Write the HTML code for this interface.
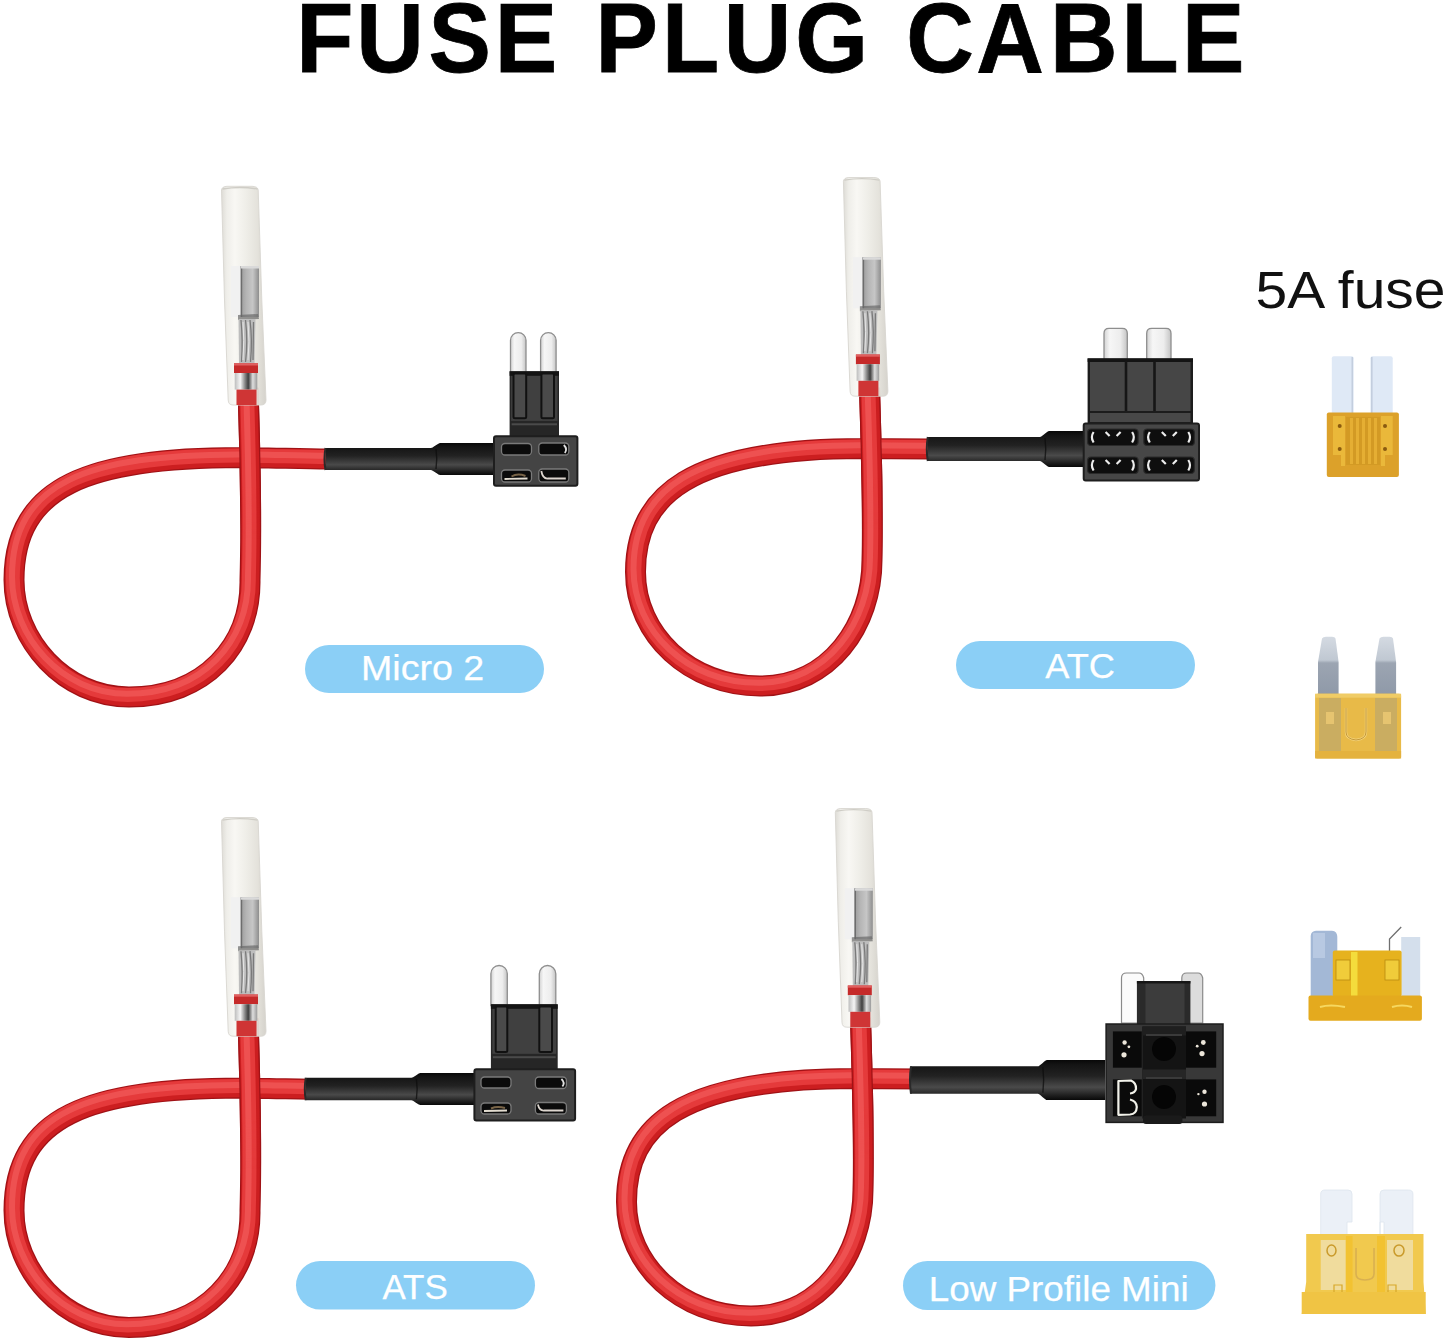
<!DOCTYPE html>
<html><head><meta charset="utf-8"><style>
html,body{margin:0;padding:0;background:#fff;}
body{width:1445px;height:1342px;overflow:hidden;position:relative;}
svg{position:absolute;left:0;top:0;font-family:"Liberation Sans", sans-serif;}
</style></head><body>
<svg width="1445" height="1342" viewBox="0 0 1445 1342">
<defs>
<linearGradient id="sleeve" x1="0" x2="1" y1="0" y2="0">
 <stop offset="0" stop-color="#dcdad4"/><stop offset="0.12" stop-color="#eeede8"/><stop offset="0.3" stop-color="#f8f7f3"/><stop offset="0.55" stop-color="#eeede7"/><stop offset="0.8" stop-color="#e3e1da"/><stop offset="1" stop-color="#d3d0c9"/>
</linearGradient>
<linearGradient id="metal" x1="0" x2="1" y1="0" y2="0">
 <stop offset="0" stop-color="#cfcfcf"/><stop offset="0.2" stop-color="#f2f2f2"/><stop offset="0.36" stop-color="#dadada"/><stop offset="0.42" stop-color="#6f6f6f"/><stop offset="0.55" stop-color="#a9a9a9"/><stop offset="0.8" stop-color="#c4c4c4"/><stop offset="1" stop-color="#8c8c8c"/>
</linearGradient>
<linearGradient id="barrel" x1="0" x2="1" y1="0" y2="0"><stop offset="0" stop-color="#9d9d9d"/><stop offset="0.3" stop-color="#b5b5b5"/><stop offset="0.65" stop-color="#c6c6c6"/><stop offset="1" stop-color="#8e8e8e"/></linearGradient>
<linearGradient id="metal2" x1="0" x2="1" y1="0" y2="0">
 <stop offset="0" stop-color="#d6d6d6"/><stop offset="0.5" stop-color="#a8a8a8"/><stop offset="1" stop-color="#cdcdcd"/>
</linearGradient>
<linearGradient id="metal3" x1="0" x2="1" y1="0" y2="0">
 <stop offset="0" stop-color="#bdbdbd"/><stop offset="0.25" stop-color="#f5f5f5"/><stop offset="0.45" stop-color="#8a8a8a"/><stop offset="0.6" stop-color="#3f3f3f"/><stop offset="0.8" stop-color="#dedede"/><stop offset="1" stop-color="#9a9a9a"/>
</linearGradient>
<linearGradient id="shrink" x1="0" x2="0" y1="0" y2="1">
 <stop offset="0" stop-color="#080808"/><stop offset="0.12" stop-color="#141414"/><stop offset="0.4" stop-color="#222"/><stop offset="0.68" stop-color="#4a4a4a"/><stop offset="0.88" stop-color="#202020"/><stop offset="1" stop-color="#080808"/>
</linearGradient>
<linearGradient id="prong" x1="0" x2="1" y1="0" y2="0">
 <stop offset="0" stop-color="#d2d2d2"/><stop offset="0.25" stop-color="#f6f6f6"/><stop offset="0.7" stop-color="#ededed"/><stop offset="1" stop-color="#c4c4c4"/>
</linearGradient>
<linearGradient id="prongB" x1="0" x2="0" y1="0" y2="1">
 <stop offset="0" stop-color="#d4dae2"/><stop offset="0.4" stop-color="#c0c8d2"/><stop offset="0.45" stop-color="#9ca5b2"/><stop offset="1" stop-color="#8f99a8"/>
</linearGradient>
</defs>
<defs><linearGradient id="fg0" gradientUnits="userSpaceOnUse" x1="0" y1="487" x2="0" y2="539"><stop offset="0" stop-color="#fff"/><stop offset="1" stop-color="#000"/></linearGradient><mask id="fm0" maskUnits="userSpaceOnUse" x="190" y="339" width="120" height="260"><rect x="190" y="339" width="120" height="260" fill="url(#fg0)"/></mask><linearGradient id="fg1" gradientUnits="userSpaceOnUse" x1="0" y1="477" x2="0" y2="529"><stop offset="0" stop-color="#fff"/><stop offset="1" stop-color="#000"/></linearGradient><mask id="fm1" maskUnits="userSpaceOnUse" x="812" y="329" width="120" height="260"><rect x="812" y="329" width="120" height="260" fill="url(#fg1)"/></mask><linearGradient id="fg2" gradientUnits="userSpaceOnUse" x1="0" y1="1117.5" x2="0" y2="1169.5"><stop offset="0" stop-color="#fff"/><stop offset="1" stop-color="#000"/></linearGradient><mask id="fm2" maskUnits="userSpaceOnUse" x="190" y="969.5" width="120" height="260"><rect x="190" y="969.5" width="120" height="260" fill="url(#fg2)"/></mask><linearGradient id="fg3" gradientUnits="userSpaceOnUse" x1="0" y1="1107" x2="0" y2="1159"><stop offset="0" stop-color="#fff"/><stop offset="1" stop-color="#000"/></linearGradient><mask id="fm3" maskUnits="userSpaceOnUse" x="803" y="959" width="120" height="260"><rect x="803" y="959" width="120" height="260" fill="url(#fg3)"/></mask></defs>
<text y="72" font-size="98" font-weight="bold" fill="#000" stroke="#000" stroke-width="0.8" transform="scale(0.955,1)"><tspan x="310.20">F</tspan><tspan x="373.17">U</tspan><tspan x="448.59">S</tspan><tspan x="518.05">E</tspan><tspan x="623.60">P</tspan><tspan x="693.23">L</tspan><tspan x="757.99">U</tspan><tspan x="832.84">G</tspan><tspan x="949.07">C</tspan><tspan x="1022.38">A</tspan><tspan x="1099.41">B</tspan><tspan x="1174.28">L</tspan><tspan x="1237.63">E</tspan></text>
<text x="1255.5" y="307.5" font-size="51" fill="#111" textLength="190" lengthAdjust="spacingAndGlyphs">5A fuse</text>
<path d="M328.0,459.0 C300.0,459.0 270.0,457.6 240.0,457.6 C90.0,458.0 14.0,485.0 14.0,580.0 C14.0,640.0 64.0,697.0 129.0,697.0 C205.0,697.0 251.0,645.0 250.0,580.0 C251.5,530.0 250.0,450.0 248.0,388.0" fill="none" stroke="#a01216" stroke-width="21"/><path d="M328.0,459.0 C300.0,459.0 270.0,457.6 240.0,457.6 C90.0,458.0 14.0,485.0 14.0,580.0 C14.0,640.0 64.0,697.0 129.0,697.0 C205.0,697.0 251.0,645.0 250.0,580.0 C251.5,530.0 250.0,450.0 248.0,388.0" fill="none" stroke="#cc1e20" stroke-width="18.5"/><path d="M328.0,459.0 C300.0,459.0 270.0,457.6 240.0,457.6 C90.0,458.0 14.0,485.0 14.0,580.0 C14.0,640.0 64.0,697.0 129.0,697.0 C205.0,697.0 251.0,645.0 250.0,580.0 C251.5,530.0 250.0,450.0 248.0,388.0" fill="none" stroke="#e53a3b" stroke-width="14" transform="translate(-1.2,-2)"/><path d="M328.0,459.0 C300.0,459.0 270.0,457.6 240.0,457.6 C90.0,458.0 14.0,485.0 14.0,580.0 C14.0,640.0 64.0,697.0 129.0,697.0 C205.0,697.0 251.0,645.0 250.0,580.0 C251.5,530.0 250.0,450.0 248.0,388.0" fill="none" stroke="#f05a5a" stroke-width="6" opacity="0.75" transform="translate(-2,-3.2)"/><g mask="url(#fm0)"><path d="M250.0,580.0 C251.5,530.0 250.0,450.0 248.0,388.0" fill="none" stroke="#a01216" stroke-width="21"/><path d="M250.0,580.0 C251.5,530.0 250.0,450.0 248.0,388.0" fill="none" stroke="#cc1e20" stroke-width="18.5"/><path d="M250.0,580.0 C251.5,530.0 250.0,450.0 248.0,388.0" fill="none" stroke="#e53a3b" stroke-width="14" transform="translate(-1.2,-2)"/><path d="M250.0,580.0 C251.5,530.0 250.0,450.0 248.0,388.0" fill="none" stroke="#f05a5a" stroke-width="6" opacity="0.75" transform="translate(-2,-3.2)"/></g>
<path d="M325.5,448.0 L431,448.0 Q432,448.0 435.5,445.5 Q439,443.0 440,443.0 L494,443.0 L494,475.0 L440,475.0 Q439,475.0 435.5,472.5 Q432,470.0 431,470.0 L325.5,470.0 Z" fill="url(#shrink)"/>
<path d="M436,449.0 Q437.5,459 436,469.0" fill="none" stroke="#0c0c0c" stroke-width="1.4" opacity="0.7"/>
<path d="M325.5,448.0 Q323.5,459 325.5,470.0" fill="none" stroke="#2a2a2a" stroke-width="2"/>
<path d="M510.5,372.6 L510.5,340.35 A7.75,7.75 0 0 1 526.0,340.35 L526.0,372.6 Z" fill="url(#prong)" stroke="#8e8e8e" stroke-width="1.3"/>
<path d="M540.6,372.6 L540.6,340.35 A7.75,7.75 0 0 1 556.1,340.35 L556.1,372.6 Z" fill="url(#prong)" stroke="#8e8e8e" stroke-width="1.3"/>
<rect x="509.6" y="371.3" width="49.39999999999998" height="65.0" fill="#262626"/>
<rect x="511.1" y="372.8" width="46.39999999999998" height="48.1" fill="#404040"/>
<rect x="509.6" y="371.3" width="49.39999999999998" height="4.5" fill="#141414"/>
<rect x="511.6" y="423.3" width="45.39999999999998" height="2" fill="#4a4a4a"/>
<rect x="513.5" y="373.5" width="12.700000000000045" height="44.69999999999999" rx="1.5" fill="#4a4a4a" stroke="#111" stroke-width="2"/>
<rect x="541.4" y="373.5" width="12.600000000000023" height="44.69999999999999" rx="1.5" fill="#4a4a4a" stroke="#111" stroke-width="2"/>
<rect x="494" y="436.3" width="83.39999999999998" height="49.39999999999998" rx="2" fill="#444444" stroke="#1e1e1e" stroke-width="2"/>
<rect x="501.5" y="443.5" width="30" height="11.5" rx="3.5" fill="#0b0b0b" stroke="#7a7a7a" stroke-width="1.3"/>
<rect x="538.8" y="443" width="30" height="12" rx="3.5" fill="#0b0b0b" stroke="#7a7a7a" stroke-width="1.3"/><path d="M563.8,445 Q567.8,449.0 564.8,453" stroke="#e0e0e0" stroke-width="1.8" fill="none"/>
<rect x="501.5" y="470" width="30" height="12" rx="3.5" fill="#0b0b0b" stroke="#7a7a7a" stroke-width="1.3"/><path d="M504.5,479 L527.5,478.5" stroke="#e2dcd0" stroke-width="1.8"/><path d="M511.5,476.5 Q517.5,473 525.5,476" stroke="#7a6548" stroke-width="2" fill="none"/>
<rect x="538.8" y="469" width="30" height="13" rx="3.5" fill="#0b0b0b" stroke="#7a7a7a" stroke-width="1.3"/><path d="M541.3,471 Q542.8,479 547.8,478.5 L565.8,478.5" stroke="#ddd6cf" stroke-width="1.8" fill="none"/>
<g transform="translate(0,0)">
  <path d="M221.5,190 Q222,186.5 227,186.3 L252,186.3 Q257.8,186.5 258.2,190 L261.8,300 L266,400 Q266,405 261,405 L233,405 Q228.3,405 228.2,400 L224.5,300 Z" fill="url(#sleeve)" fill-opacity="0.95" stroke="#d8d6d0" stroke-width="0.9"/>
  <path d="M222.5,189 Q240,186 257.5,189" stroke="#cfcdc6" stroke-width="1.3" fill="none"/>
  <rect x="231" y="266" width="10.5" height="51" fill="#f1f1f1"/>
  <rect x="241" y="266" width="18" height="51" fill="url(#barrel)"/>
  <rect x="240.6" y="266" width="1.6" height="51" fill="#6d6d6d"/>
  <rect x="241" y="266" width="18" height="2.5" fill="#d9d9d9"/>
  <path d="M238,315 L258,314 L259,319 L238,320 Z" fill="#6a6a6a" opacity="0.7"/>
  <path d="M238.5,319 L255.5,319 L254.5,363.5 L239,363.5 Z" fill="#bdbdbd"/>
  <path d="M241,320 Q243,340 241.5,362 M245.5,320 Q248,342 245.5,362 M250,320 Q252.5,340 250.5,362 M253.5,322 L253,360" stroke="#7a7a7a" stroke-width="1.3" fill="none"/>
  <path d="M243,322 Q244.5,340 243,360 M248,322 Q250,342 248,360" stroke="#e6e6e6" stroke-width="1" fill="none"/>
  <rect x="234" y="363.3" width="24" height="9.7" fill="#c52a2a"/>
  <rect x="234" y="363.3" width="24" height="2.2" fill="#e06060"/>
  <rect x="234.7" y="373" width="22.6" height="16.6" fill="url(#metal3)"/>
  <rect x="236.5" y="389.6" width="20" height="15.4" fill="#cf3535"/>
</g>
<rect x="305" y="645" width="239" height="48" rx="24.0" fill="#8bcff6"/>
<text x="361" y="679.5" font-size="35.6" fill="#ffffff" stroke="#ffffff" stroke-width="0.25" textLength="123.2" lengthAdjust="spacingAndGlyphs">Micro 2</text>
<path d="M930.0,449.0 C905.0,449.0 885.0,448.5 861.0,448.5 C690.0,449.0 635.5,495.0 635.5,572.0 C635.5,635.0 690.0,686.0 760.0,686.0 C830.0,686.0 872.0,625.0 872.0,560.0 C873.5,510.0 871.0,440.0 869.5,388.0" fill="none" stroke="#a01216" stroke-width="21"/><path d="M930.0,449.0 C905.0,449.0 885.0,448.5 861.0,448.5 C690.0,449.0 635.5,495.0 635.5,572.0 C635.5,635.0 690.0,686.0 760.0,686.0 C830.0,686.0 872.0,625.0 872.0,560.0 C873.5,510.0 871.0,440.0 869.5,388.0" fill="none" stroke="#cc1e20" stroke-width="18.5"/><path d="M930.0,449.0 C905.0,449.0 885.0,448.5 861.0,448.5 C690.0,449.0 635.5,495.0 635.5,572.0 C635.5,635.0 690.0,686.0 760.0,686.0 C830.0,686.0 872.0,625.0 872.0,560.0 C873.5,510.0 871.0,440.0 869.5,388.0" fill="none" stroke="#e53a3b" stroke-width="14" transform="translate(-1.2,-2)"/><path d="M930.0,449.0 C905.0,449.0 885.0,448.5 861.0,448.5 C690.0,449.0 635.5,495.0 635.5,572.0 C635.5,635.0 690.0,686.0 760.0,686.0 C830.0,686.0 872.0,625.0 872.0,560.0 C873.5,510.0 871.0,440.0 869.5,388.0" fill="none" stroke="#f05a5a" stroke-width="6" opacity="0.75" transform="translate(-2,-3.2)"/><g mask="url(#fm1)"><path d="M872.0,560.0 C873.5,510.0 871.0,440.0 869.5,388.0" fill="none" stroke="#a01216" stroke-width="21"/><path d="M872.0,560.0 C873.5,510.0 871.0,440.0 869.5,388.0" fill="none" stroke="#cc1e20" stroke-width="18.5"/><path d="M872.0,560.0 C873.5,510.0 871.0,440.0 869.5,388.0" fill="none" stroke="#e53a3b" stroke-width="14" transform="translate(-1.2,-2)"/><path d="M872.0,560.0 C873.5,510.0 871.0,440.0 869.5,388.0" fill="none" stroke="#f05a5a" stroke-width="6" opacity="0.75" transform="translate(-2,-3.2)"/></g>
<path d="M927.8,437.0 L1040,437.0 Q1041,437.0 1044.5,434.0 Q1048,431.0 1049,431.0 L1083.7,431.0 L1083.7,467.0 L1049,467.0 Q1048,467.0 1044.5,464.0 Q1041,461.0 1040,461.0 L927.8,461.0 Z" fill="url(#shrink)"/>
<path d="M1045,438.0 Q1046.5,449 1045,460.0" fill="none" stroke="#0c0c0c" stroke-width="1.4" opacity="0.7"/>
<path d="M927.8,437.0 Q925.8,449 927.8,461.0" fill="none" stroke="#2a2a2a" stroke-width="2"/>
<path d="M1104,360.4 L1104,333.4 Q1104,328.4 1109,328.4 L1122.3,328.4 Q1127.3,328.4 1127.3,333.4 L1127.3,360.4 Z" fill="url(#prong)" stroke="#8e8e8e" stroke-width="1.3"/>
<path d="M1146.7,360.4 L1146.7,333.4 Q1146.7,328.4 1151.7,328.4 L1166.0,328.4 Q1171.0,328.4 1171.0,333.4 L1171.0,360.4 Z" fill="url(#prong)" stroke="#8e8e8e" stroke-width="1.3"/>
<rect x="1087.6" y="358.4" width="105.4" height="65" fill="#1c1c1c"/>
<rect x="1090" y="362" width="100.5" height="49" fill="#464646"/>
<rect x="1087.6" y="358.4" width="105.4" height="3.5" fill="#141414"/>
<line x1="1126" y1="361" x2="1126" y2="411" stroke="#161616" stroke-width="2.6"/><line x1="1154.5" y1="361" x2="1154.5" y2="411" stroke="#161616" stroke-width="2.6"/>
<rect x="1090" y="413" width="100.5" height="9" fill="#484848"/>
<rect x="1083.7" y="423.4" width="115.3" height="57.1" rx="2" fill="#474747" stroke="#1e1e1e" stroke-width="2"/>
<rect x="1087.6" y="429" width="50.5" height="16.5" rx="3.5" fill="#0e0e0e" stroke="#2a2a2a" stroke-width="1.2"/>
<path d="M1093.6,432 Q1090.1,437.25 1093.6,442.5 M1132.1,432 Q1135.6,437.25 1132.1,442.5 M1105.6,432 L1109.6,436 M1120.6,432 L1116.6,436" stroke="#ececec" stroke-width="2.2" fill="none"/>
<rect x="1143.8" y="429" width="50.5" height="16.5" rx="3.5" fill="#0e0e0e" stroke="#2a2a2a" stroke-width="1.2"/>
<path d="M1149.8,432 Q1146.3,437.25 1149.8,442.5 M1188.3,432 Q1191.8,437.25 1188.3,442.5 M1161.8,432 L1165.8,436 M1176.8,432 L1172.8,436" stroke="#ececec" stroke-width="2.2" fill="none"/>
<rect x="1087.6" y="457" width="50.5" height="16.5" rx="3.5" fill="#0e0e0e" stroke="#2a2a2a" stroke-width="1.2"/>
<path d="M1093.6,460 Q1090.1,465.25 1093.6,470.5 M1132.1,460 Q1135.6,465.25 1132.1,470.5 M1105.6,460 L1109.6,464 M1120.6,460 L1116.6,464" stroke="#ececec" stroke-width="2.2" fill="none"/>
<rect x="1143.8" y="457" width="50.5" height="16.5" rx="3.5" fill="#0e0e0e" stroke="#2a2a2a" stroke-width="1.2"/>
<path d="M1149.8,460 Q1146.3,465.25 1149.8,470.5 M1188.3,460 Q1191.8,465.25 1188.3,470.5 M1161.8,460 L1165.8,464 M1176.8,460 L1172.8,464" stroke="#ececec" stroke-width="2.2" fill="none"/>
<g transform="translate(621.9,-8.8)">
  <path d="M221.5,190 Q222,186.5 227,186.3 L252,186.3 Q257.8,186.5 258.2,190 L261.8,300 L266,400 Q266,405 261,405 L233,405 Q228.3,405 228.2,400 L224.5,300 Z" fill="url(#sleeve)" fill-opacity="0.95" stroke="#d8d6d0" stroke-width="0.9"/>
  <path d="M222.5,189 Q240,186 257.5,189" stroke="#cfcdc6" stroke-width="1.3" fill="none"/>
  <rect x="231" y="266" width="10.5" height="51" fill="#f1f1f1"/>
  <rect x="241" y="266" width="18" height="51" fill="url(#barrel)"/>
  <rect x="240.6" y="266" width="1.6" height="51" fill="#6d6d6d"/>
  <rect x="241" y="266" width="18" height="2.5" fill="#d9d9d9"/>
  <path d="M238,315 L258,314 L259,319 L238,320 Z" fill="#6a6a6a" opacity="0.7"/>
  <path d="M238.5,319 L255.5,319 L254.5,363.5 L239,363.5 Z" fill="#bdbdbd"/>
  <path d="M241,320 Q243,340 241.5,362 M245.5,320 Q248,342 245.5,362 M250,320 Q252.5,340 250.5,362 M253.5,322 L253,360" stroke="#7a7a7a" stroke-width="1.3" fill="none"/>
  <path d="M243,322 Q244.5,340 243,360 M248,322 Q250,342 248,360" stroke="#e6e6e6" stroke-width="1" fill="none"/>
  <rect x="234" y="363.3" width="24" height="9.7" fill="#c52a2a"/>
  <rect x="234" y="363.3" width="24" height="2.2" fill="#e06060"/>
  <rect x="234.7" y="373" width="22.6" height="16.6" fill="url(#metal3)"/>
  <rect x="236.5" y="389.6" width="20" height="15.4" fill="#cf3535"/>
</g>
<rect x="956" y="641" width="239" height="48" rx="24.0" fill="#8bcff6"/>
<text x="1045.2" y="678.2" font-size="35" fill="#ffffff" stroke="#ffffff" stroke-width="0.25" textLength="69.8" lengthAdjust="spacingAndGlyphs">ATC</text>
<path d="M328.0,1089.5 C300.0,1089.5 270.0,1088.1 240.0,1088.1 C90.0,1088.5 14.0,1115.5 14.0,1210.5 C14.0,1270.5 64.0,1327.5 129.0,1327.5 C205.0,1327.5 251.0,1275.5 250.0,1210.5 C251.5,1160.5 250.0,1080.5 248.0,1018.5" fill="none" stroke="#a01216" stroke-width="21"/><path d="M328.0,1089.5 C300.0,1089.5 270.0,1088.1 240.0,1088.1 C90.0,1088.5 14.0,1115.5 14.0,1210.5 C14.0,1270.5 64.0,1327.5 129.0,1327.5 C205.0,1327.5 251.0,1275.5 250.0,1210.5 C251.5,1160.5 250.0,1080.5 248.0,1018.5" fill="none" stroke="#cc1e20" stroke-width="18.5"/><path d="M328.0,1089.5 C300.0,1089.5 270.0,1088.1 240.0,1088.1 C90.0,1088.5 14.0,1115.5 14.0,1210.5 C14.0,1270.5 64.0,1327.5 129.0,1327.5 C205.0,1327.5 251.0,1275.5 250.0,1210.5 C251.5,1160.5 250.0,1080.5 248.0,1018.5" fill="none" stroke="#e53a3b" stroke-width="14" transform="translate(-1.2,-2)"/><path d="M328.0,1089.5 C300.0,1089.5 270.0,1088.1 240.0,1088.1 C90.0,1088.5 14.0,1115.5 14.0,1210.5 C14.0,1270.5 64.0,1327.5 129.0,1327.5 C205.0,1327.5 251.0,1275.5 250.0,1210.5 C251.5,1160.5 250.0,1080.5 248.0,1018.5" fill="none" stroke="#f05a5a" stroke-width="6" opacity="0.75" transform="translate(-2,-3.2)"/><g mask="url(#fm2)"><path d="M250.0,1210.5 C251.5,1160.5 250.0,1080.5 248.0,1018.5" fill="none" stroke="#a01216" stroke-width="21"/><path d="M250.0,1210.5 C251.5,1160.5 250.0,1080.5 248.0,1018.5" fill="none" stroke="#cc1e20" stroke-width="18.5"/><path d="M250.0,1210.5 C251.5,1160.5 250.0,1080.5 248.0,1018.5" fill="none" stroke="#e53a3b" stroke-width="14" transform="translate(-1.2,-2)"/><path d="M250.0,1210.5 C251.5,1160.5 250.0,1080.5 248.0,1018.5" fill="none" stroke="#f05a5a" stroke-width="6" opacity="0.75" transform="translate(-2,-3.2)"/></g>
<path d="M305.8,1077.75 L411.4,1077.75 Q412.4,1077.75 415.9,1075.375 Q419.4,1073.0 420.4,1073.0 L474.4,1073.0 L474.4,1105.0 L420.4,1105.0 Q419.4,1105.0 415.9,1102.625 Q412.4,1100.25 411.4,1100.25 L305.8,1100.25 Z" fill="url(#shrink)"/>
<path d="M416.4,1078.75 Q417.9,1089 416.4,1099.25" fill="none" stroke="#0c0c0c" stroke-width="1.4" opacity="0.7"/>
<path d="M305.8,1077.75 Q303.8,1089 305.8,1100.25" fill="none" stroke="#2a2a2a" stroke-width="2"/>
<path d="M490.9,1005.5 L490.9,973.7 A8.2,8.2 0 0 1 507.29999999999995,973.7 L507.29999999999995,1005.5 Z" fill="url(#prong)" stroke="#8e8e8e" stroke-width="1.3"/>
<path d="M539.3,1005.5 L539.3,973.75 A8.25,8.25 0 0 1 555.8,973.75 L555.8,1005.5 Z" fill="url(#prong)" stroke="#8e8e8e" stroke-width="1.3"/>
<rect x="490.9" y="1004.3" width="66.80000000000007" height="64.90000000000009" fill="#262626"/>
<rect x="492.4" y="1005.8" width="63.80000000000007" height="48.02600000000007" fill="#404040"/>
<rect x="490.9" y="1004.3" width="66.80000000000007" height="4.5" fill="#141414"/>
<rect x="492.9" y="1056.22" width="62.80000000000007" height="2" fill="#4a4a4a"/>
<rect x="495.7" y="1006.5" width="11.600000000000023" height="45.5" rx="1.5" fill="#4a4a4a" stroke="#111" stroke-width="2"/>
<rect x="539.3" y="1006.5" width="12.700000000000045" height="45.5" rx="1.5" fill="#4a4a4a" stroke="#111" stroke-width="2"/>
<rect x="474.4" y="1069.2" width="100.70000000000005" height="51.299999999999955" rx="2" fill="#444444" stroke="#1e1e1e" stroke-width="2"/>
<rect x="481" y="1077" width="30" height="11" rx="3.5" fill="#0b0b0b" stroke="#7a7a7a" stroke-width="1.3"/>
<rect x="535.4" y="1077" width="31" height="11.5" rx="3.5" fill="#0b0b0b" stroke="#7a7a7a" stroke-width="1.3"/><path d="M561.4,1079 Q565.4,1082.75 562.4,1086.5" stroke="#e0e0e0" stroke-width="1.8" fill="none"/>
<rect x="481" y="1103" width="30" height="11" rx="3.5" fill="#0b0b0b" stroke="#7a7a7a" stroke-width="1.3"/><path d="M484,1111 L507,1110.5" stroke="#e2dcd0" stroke-width="1.8"/><path d="M491,1108.5 Q497,1106 505,1108" stroke="#7a6548" stroke-width="2" fill="none"/>
<rect x="535.4" y="1102.5" width="31" height="11.5" rx="3.5" fill="#0b0b0b" stroke="#7a7a7a" stroke-width="1.3"/><path d="M537.9,1104.5 Q539.4,1111.0 544.4,1110.5 L563.4,1110.5" stroke="#ddd6cf" stroke-width="1.8" fill="none"/>
<g transform="translate(0,631.2)">
  <path d="M221.5,190 Q222,186.5 227,186.3 L252,186.3 Q257.8,186.5 258.2,190 L261.8,300 L266,400 Q266,405 261,405 L233,405 Q228.3,405 228.2,400 L224.5,300 Z" fill="url(#sleeve)" fill-opacity="0.95" stroke="#d8d6d0" stroke-width="0.9"/>
  <path d="M222.5,189 Q240,186 257.5,189" stroke="#cfcdc6" stroke-width="1.3" fill="none"/>
  <rect x="231" y="266" width="10.5" height="51" fill="#f1f1f1"/>
  <rect x="241" y="266" width="18" height="51" fill="url(#barrel)"/>
  <rect x="240.6" y="266" width="1.6" height="51" fill="#6d6d6d"/>
  <rect x="241" y="266" width="18" height="2.5" fill="#d9d9d9"/>
  <path d="M238,315 L258,314 L259,319 L238,320 Z" fill="#6a6a6a" opacity="0.7"/>
  <path d="M238.5,319 L255.5,319 L254.5,363.5 L239,363.5 Z" fill="#bdbdbd"/>
  <path d="M241,320 Q243,340 241.5,362 M245.5,320 Q248,342 245.5,362 M250,320 Q252.5,340 250.5,362 M253.5,322 L253,360" stroke="#7a7a7a" stroke-width="1.3" fill="none"/>
  <path d="M243,322 Q244.5,340 243,360 M248,322 Q250,342 248,360" stroke="#e6e6e6" stroke-width="1" fill="none"/>
  <rect x="234" y="363.3" width="24" height="9.7" fill="#c52a2a"/>
  <rect x="234" y="363.3" width="24" height="2.2" fill="#e06060"/>
  <rect x="234.7" y="373" width="22.6" height="16.6" fill="url(#metal3)"/>
  <rect x="236.5" y="389.6" width="20" height="15.4" fill="#cf3535"/>
</g>
<rect x="296" y="1261" width="239" height="48.5" rx="24.25" fill="#8bcff6"/>
<text x="382.4" y="1299.4" font-size="35.5" fill="#ffffff" stroke="#ffffff" stroke-width="0.25" textLength="65.4" lengthAdjust="spacingAndGlyphs">ATS</text>
<path d="M921.0,1079.0 C896.0,1079.0 876.0,1078.5 852.0,1078.5 C681.0,1079.0 626.5,1125.0 626.5,1202.0 C626.5,1265.0 681.0,1316.0 751.0,1316.0 C821.0,1316.0 863.0,1255.0 863.0,1190.0 C864.5,1140.0 862.0,1070.0 860.5,1018.0" fill="none" stroke="#a01216" stroke-width="21"/><path d="M921.0,1079.0 C896.0,1079.0 876.0,1078.5 852.0,1078.5 C681.0,1079.0 626.5,1125.0 626.5,1202.0 C626.5,1265.0 681.0,1316.0 751.0,1316.0 C821.0,1316.0 863.0,1255.0 863.0,1190.0 C864.5,1140.0 862.0,1070.0 860.5,1018.0" fill="none" stroke="#cc1e20" stroke-width="18.5"/><path d="M921.0,1079.0 C896.0,1079.0 876.0,1078.5 852.0,1078.5 C681.0,1079.0 626.5,1125.0 626.5,1202.0 C626.5,1265.0 681.0,1316.0 751.0,1316.0 C821.0,1316.0 863.0,1255.0 863.0,1190.0 C864.5,1140.0 862.0,1070.0 860.5,1018.0" fill="none" stroke="#e53a3b" stroke-width="14" transform="translate(-1.2,-2)"/><path d="M921.0,1079.0 C896.0,1079.0 876.0,1078.5 852.0,1078.5 C681.0,1079.0 626.5,1125.0 626.5,1202.0 C626.5,1265.0 681.0,1316.0 751.0,1316.0 C821.0,1316.0 863.0,1255.0 863.0,1190.0 C864.5,1140.0 862.0,1070.0 860.5,1018.0" fill="none" stroke="#f05a5a" stroke-width="6" opacity="0.75" transform="translate(-2,-3.2)"/><g mask="url(#fm3)"><path d="M863.0,1190.0 C864.5,1140.0 862.0,1070.0 860.5,1018.0" fill="none" stroke="#a01216" stroke-width="21"/><path d="M863.0,1190.0 C864.5,1140.0 862.0,1070.0 860.5,1018.0" fill="none" stroke="#cc1e20" stroke-width="18.5"/><path d="M863.0,1190.0 C864.5,1140.0 862.0,1070.0 860.5,1018.0" fill="none" stroke="#e53a3b" stroke-width="14" transform="translate(-1.2,-2)"/><path d="M863.0,1190.0 C864.5,1140.0 862.0,1070.0 860.5,1018.0" fill="none" stroke="#f05a5a" stroke-width="6" opacity="0.75" transform="translate(-2,-3.2)"/></g>
<path d="M911,1066.25 L1037.9,1066.25 Q1038.9,1066.25 1042.4,1063.125 Q1045.9,1060.0 1046.9,1060.0 L1105.3,1060.0 L1105.3,1100.0 L1046.9,1100.0 Q1045.9,1100.0 1042.4,1096.875 Q1038.9,1093.75 1037.9,1093.75 L911,1093.75 Z" fill="url(#shrink)"/>
<path d="M1042.9,1067.25 Q1044.4,1080 1042.9,1092.75" fill="none" stroke="#0c0c0c" stroke-width="1.4" opacity="0.7"/>
<path d="M911,1066.25 Q909,1080 911,1093.75" fill="none" stroke="#2a2a2a" stroke-width="2"/>
<path d="M1121.5,1023 L1121.5,978 Q1121.5,973 1126.5,973 L1139,973 Q1142.5,973 1143.7,978 L1143.7,1023 Z" fill="#fbfbfb" stroke="#8a8a8a" stroke-width="1.2"/>
<path d="M1181.8,1023 L1181.8,978 Q1181.8,973 1186.8,973 L1198,973 Q1201.5,973 1202.7,978 L1202.7,1023 Z" fill="#dcdcdc" stroke="#8a8a8a" stroke-width="1.2"/>
<rect x="1136.9" y="981" width="53.5" height="44" fill="#2a2a2a"/>
<rect x="1145.5" y="983" width="39" height="41" fill="#3c3c3c"/>
<rect x="1136.9" y="981" width="53.5" height="2.5" fill="#161616"/>
<rect x="1106.1" y="1024" width="116.9" height="98.4" fill="#383838" stroke="#1c1c1c" stroke-width="1.5"/>
<rect x="1112.9" y="1031.4" width="28.9" height="36.3" fill="#0a0a0a"/>
<rect x="1186" y="1031.4" width="30.2" height="36.3" fill="#0a0a0a"/>
<rect x="1112.9" y="1079.4" width="28.9" height="36.9" fill="#0a0a0a"/>
<rect x="1186" y="1079.4" width="30.2" height="36.9" fill="#0a0a0a"/>
<rect x="1142.4" y="1026.5" width="43.6" height="92" fill="#141414"/>
<rect x="1142.4" y="1026.5" width="43.6" height="9" fill="#1f1f1f"/><rect x="1146" y="1034" width="36" height="2" fill="#3a3a3a"/>
<rect x="1142.4" y="1069.5" width="43.6" height="9.5" fill="#262626"/><rect x="1146" y="1077" width="36" height="2" fill="#3a3a3a"/>
<ellipse cx="1164" cy="1049" rx="12" ry="12" fill="#050505"/><ellipse cx="1164" cy="1097" rx="12" ry="12" fill="#050505"/>
<rect x="1143" y="1115.5" width="39.4" height="8.5" rx="3" fill="#1a1a1a"/>
<path d="M1130,1093.5 Q1135,1093 1136,1089 Q1136.5,1083 1131,1080.5 L1118.4,1081 L1118.4,1114.8 L1130,1114.5 Q1136.5,1114 1136.8,1107 Q1136.5,1101 1130,1099.5" fill="none" stroke="#f2f2ea" stroke-width="2.2" stroke-linejoin="round"/>
<circle cx="1124.6" cy="1042.5" r="2.2" fill="#ece6da"/>
<circle cx="1128.9" cy="1046.8" r="1.4" fill="#ece6da"/>
<circle cx="1124" cy="1054.8" r="2.6" fill="#ece6da"/>
<circle cx="1203.3" cy="1042.5" r="2.4" fill="#ece6da"/>
<circle cx="1197.2" cy="1046.2" r="1.4" fill="#ece6da"/>
<circle cx="1202" cy="1053.6" r="2.6" fill="#ece6da"/>
<circle cx="1204.5" cy="1091.7" r="2.2" fill="#ece6da"/>
<circle cx="1198.4" cy="1094.1" r="1.2" fill="#ece6da"/>
<circle cx="1204.5" cy="1104" r="2.6" fill="#ece6da"/>
<g transform="translate(613.8,622.2)">
  <path d="M221.5,190 Q222,186.5 227,186.3 L252,186.3 Q257.8,186.5 258.2,190 L261.8,300 L266,400 Q266,405 261,405 L233,405 Q228.3,405 228.2,400 L224.5,300 Z" fill="url(#sleeve)" fill-opacity="0.95" stroke="#d8d6d0" stroke-width="0.9"/>
  <path d="M222.5,189 Q240,186 257.5,189" stroke="#cfcdc6" stroke-width="1.3" fill="none"/>
  <rect x="231" y="266" width="10.5" height="51" fill="#f1f1f1"/>
  <rect x="241" y="266" width="18" height="51" fill="url(#barrel)"/>
  <rect x="240.6" y="266" width="1.6" height="51" fill="#6d6d6d"/>
  <rect x="241" y="266" width="18" height="2.5" fill="#d9d9d9"/>
  <path d="M238,315 L258,314 L259,319 L238,320 Z" fill="#6a6a6a" opacity="0.7"/>
  <path d="M238.5,319 L255.5,319 L254.5,363.5 L239,363.5 Z" fill="#bdbdbd"/>
  <path d="M241,320 Q243,340 241.5,362 M245.5,320 Q248,342 245.5,362 M250,320 Q252.5,340 250.5,362 M253.5,322 L253,360" stroke="#7a7a7a" stroke-width="1.3" fill="none"/>
  <path d="M243,322 Q244.5,340 243,360 M248,322 Q250,342 248,360" stroke="#e6e6e6" stroke-width="1" fill="none"/>
  <rect x="234" y="363.3" width="24" height="9.7" fill="#c52a2a"/>
  <rect x="234" y="363.3" width="24" height="2.2" fill="#e06060"/>
  <rect x="234.7" y="373" width="22.6" height="16.6" fill="url(#metal3)"/>
  <rect x="236.5" y="389.6" width="20" height="15.4" fill="#cf3535"/>
</g>
<rect x="903" y="1261" width="312.4000000000001" height="49" rx="24.5" fill="#8bcff6"/>
<text x="928.8" y="1301" font-size="35.6" fill="#ffffff" stroke="#ffffff" stroke-width="0.25" textLength="259.8" lengthAdjust="spacingAndGlyphs">Low Profile Mini</text>
<rect x="1331.8" y="356.2" width="21.8" height="58" rx="2" fill="#dfe9f6"/><rect x="1351.5" y="357" width="1.6" height="56" fill="#c3cede"/>
<rect x="1370.4" y="356.2" width="22.3" height="58" rx="2" fill="#dfe9f6"/><rect x="1371" y="357" width="1.6" height="56" fill="#c3cede"/>
<rect x="1326.8" y="412.6" width="72.1" height="64.3" rx="2" fill="#dca12a"/>
<path d="M1333,416 L1345,416 L1345,466 L1341,466 L1341,455 L1333,455 Z" fill="#eab83a"/>
<path d="M1392.7,416 L1381,416 L1381,466 L1385,466 L1385,455 L1392.7,455 Z" fill="#eab83a"/>
<rect x="1346" y="417" width="34" height="48" fill="#d39a24"/>
<rect x="1350" y="418" width="3" height="46" fill="#e5ae33"/>
<rect x="1356" y="418" width="3" height="46" fill="#e5ae33"/>
<rect x="1362" y="418" width="3" height="46" fill="#e5ae33"/>
<rect x="1368" y="418" width="3" height="46" fill="#e5ae33"/>
<rect x="1374" y="418" width="3" height="46" fill="#e5ae33"/>
<circle cx="1339.7" cy="426" r="2" fill="#8a5a10"/>
<circle cx="1339.7" cy="449" r="2" fill="#8a5a10"/>
<circle cx="1385" cy="426" r="2" fill="#8a5a10"/>
<circle cx="1385" cy="449" r="2" fill="#8a5a10"/>
<path d="M1318,695 L1318,662 L1322,638.5 Q1323,636.8 1326,636.8 L1332,636.8 Q1335,636.8 1335.5,638.5 L1338.6,662 L1338.6,695 Z" fill="url(#prongB)"/>
<path d="M1375.4,695 L1375.4,662 L1379.5,638.5 Q1380.5,636.8 1383.5,636.8 L1389.5,636.8 Q1392.5,636.8 1393,638.5 L1396.1,662 L1396.1,695 Z" fill="url(#prongB)"/>
<rect x="1315.1" y="693.7" width="86" height="64.8" rx="2" fill="#e8ba48"/>
<rect x="1315.1" y="693.7" width="86" height="4" fill="#f0cc66"/>
<rect x="1319" y="698" width="22" height="54" fill="#c4aa66" opacity="0.85"/>
<rect x="1375" y="698" width="22" height="54" fill="#c4aa66" opacity="0.85"/>
<rect x="1326" y="712" width="8" height="12" fill="#e6c470"/><rect x="1383" y="712" width="8" height="12" fill="#e6c470"/>
<path d="M1346,708 L1346,732 Q1346,739 1356,740 Q1366,739 1366,732 L1366,708" fill="none" stroke="#f3d27a" stroke-width="2.4"/>
<path d="M1346,708 L1346,732 Q1346,739 1356,740 Q1366,739 1366,732 L1366,708" fill="none" stroke="#b88a2a" stroke-width="0.8"/>
<rect x="1315.1" y="751" width="86" height="7.5" fill="#e4b23e"/>
<path d="M1310.7,996 L1310.7,936 Q1311,931 1316,930.7 L1332,930.7 Q1337.3,931 1337.3,937 L1337.3,996 Z" fill="#a3b8d6"/>
<rect x="1313" y="933" width="12" height="25" fill="#c6d4ea" opacity="0.6"/>
<rect x="1401.2" y="937" width="19" height="59" fill="#d4dfec"/>
<path d="M1389.5,952 L1389.5,939 L1401.2,927" stroke="#6f6f6f" stroke-width="1.3" fill="none"/>
<rect x="1332.8" y="950.5" width="68.8" height="46" rx="2" fill="#e6b21e"/>
<rect x="1336" y="960" width="14" height="20" fill="#f0cc3a" stroke="#b88a10" stroke-width="0.8"/>
<rect x="1385" y="960" width="14" height="20" fill="#f0cc3a" stroke="#b88a10" stroke-width="0.8"/>
<rect x="1351" y="952" width="6.5" height="50" fill="#f4dc3c"/>
<rect x="1308.5" y="995.5" width="113.4" height="25.2" rx="2" fill="#e4aa1e"/>
<path d="M1320,1007 Q1330,1004 1345,1007 M1392,1007 Q1402,1004 1412,1007" stroke="#f6d860" stroke-width="2" fill="none"/>
<path d="M1320.7,1236 L1320.7,1194 Q1320.7,1190 1325,1190 L1348,1190 Q1352,1190 1352,1194 L1352,1222 L1347,1222 L1347,1236 Z" fill="#ebf0f7" stroke="#dde4ee" stroke-width="0.8"/>
<path d="M1380,1236 L1380,1194 Q1380,1190 1384,1190 L1408.5,1190 Q1412.9,1190 1412.9,1194 L1412.9,1236 L1384,1236 L1384,1222 L1380,1222 Z" fill="#ebf0f7" stroke="#dde4ee" stroke-width="0.8"/>
<path d="M1306.2,1234 L1423.5,1234 L1423.5,1282 L1425.8,1314 L1301.7,1314 L1306.2,1282 Z" fill="#f1c94e"/>
<rect x="1320.7" y="1240" width="25" height="50" fill="#efdea6" opacity="0.9"/>
<rect x="1387" y="1240" width="26" height="50" fill="#efdea6" opacity="0.9"/>
<rect x="1345.9" y="1236" width="6.7" height="62" fill="#f2c232"/><rect x="1377" y="1236" width="8" height="62" fill="#f2c232"/>
<path d="M1356,1248 L1356,1274 Q1356,1280 1365,1280 Q1374,1280 1374,1274 L1374,1248" fill="none" stroke="#d9b050" stroke-width="1.6"/>
<ellipse cx="1331.5" cy="1250.5" rx="4.5" ry="5.5" fill="none" stroke="#c99a2a" stroke-width="1.5"/><ellipse cx="1399" cy="1250.5" rx="5" ry="5.5" fill="none" stroke="#c99a2a" stroke-width="1.5"/>
<rect x="1301.7" y="1292" width="124" height="22" fill="#f0c444"/>
<path d="M1334,1292 L1334,1285 L1342,1285 L1342,1292 M1388,1292 L1388,1285 L1396,1285 L1396,1292" stroke="#d8a82a" stroke-width="1.2" fill="none"/>
</svg>
</body></html>
